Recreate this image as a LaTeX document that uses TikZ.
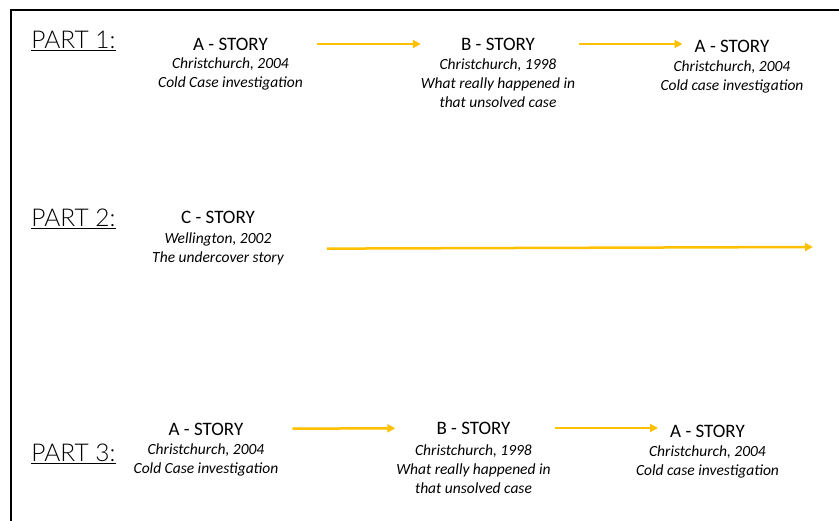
\documentclass[tikz,border=0pt]{standalone}
\usepackage{fontspec}
\setmainfont{Carlito}
\newfontfamily\partfont{Lato}[UprightFont=* Light]
\usetikzlibrary{arrows.meta}
\definecolor{storyarrow}{HTML}{FFC000}
\tikzset{partlbl/.style   = {inner sep=0pt, font=\partfont\fontsize{24.5}{28}\selectfont},
         storyhead/.style = {inner sep=0pt, font=\fontsize{19}{22}\selectfont},
         storyinfo/.style = {inner sep=0pt, align=center, font=\itshape\fontsize{15.5}{19}\selectfont},
         flow/.style      = {->, storyarrow, line width=2.5pt}}

\begin{document}
\begin{tikzpicture}[x=1pt, y=-1pt, >={Triangle[length=8pt, width=8pt]}]
    \useasboundingbox (0,0) rectangle (839,521);
    \draw[line width=2pt] (11,521) -- (11,10) -- (839,10);
    % part 1
    \node[partlbl] (p1) at (73.5,41) {\underline{PART 1:}};
    \node[storyhead] (a1) at (230.5,44) {A - STORY};
    \node[storyinfo] (a1i) at (230.5,74) {Christchurch, 2004\\Cold Case investigation};
    \node[storyhead] (b1) at (498,44) {B - STORY};
    \node[storyinfo] (b1i) at (498,83.5) {Christchurch, 1998\\What really happened in\\that unsolved case};
    \node[storyhead] (e1) at (732,46) {A - STORY};
    \node[storyinfo] (e1i) at (732,77) {Christchurch, 2004\\Cold case investigation};
    \draw[flow, shorten <=49pt, shorten >=40pt] (a1) -- (b1);
    \draw[flow, shorten <=44pt, shorten >=12pt] (b1) -- (b1 -| e1.west);
    % part 2
    \node[partlbl] (p2) at (73.5,219) {\underline{PART 2:}};
    \node[storyhead] (c2) at (218,217) {C - STORY};
    \node[storyinfo] (c2i) at (218,249) {Wellington, 2002\\The undercover story};
    \coordinate (c2e) at (813,247);
    \draw[flow, shorten <=43pt] (c2i) -- (c2e);
    % part 3
    \node[partlbl] (p3) at (73.5,454) {\underline{PART 3:}};
    \node[storyhead] (a3) at (206,429) {A - STORY};
    \node[storyinfo] (a3i) at (206,460) {Christchurch, 2004\\Cold Case investigation};
    \node[storyhead] (b3) at (473.5,428) {B - STORY};
    \node[storyinfo] (b3i) at (473.5,469.5) {Christchurch, 1998\\What really happened in\\that unsolved case};
    \node[storyhead] (e3) at (707.5,431) {A - STORY};
    \node[storyinfo] (e3i) at (707.5,462) {Christchurch, 2004\\Cold case investigation};
    \draw[flow, shorten <=49pt, shorten >=41pt] (a3) -- (b3);
    \draw[flow, shorten <=44pt, shorten >=12pt] (b3) -- (b3 -| e3.west);
\end{tikzpicture}
\end{document}
